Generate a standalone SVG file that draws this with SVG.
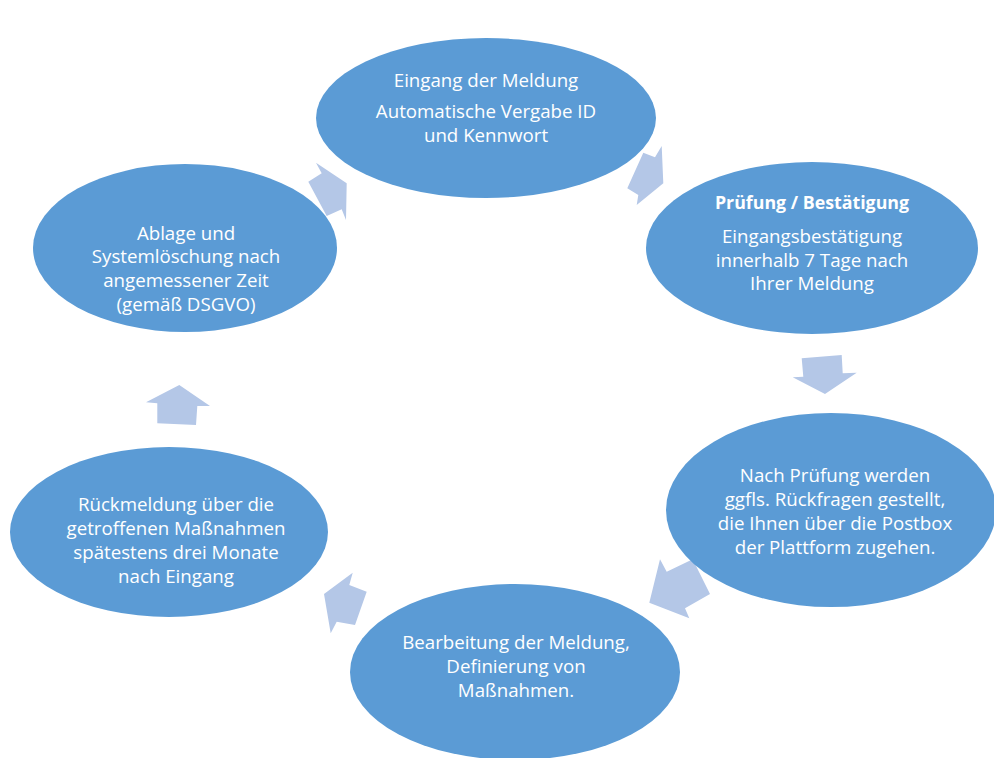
<svg xmlns="http://www.w3.org/2000/svg" width="994" height="758" viewBox="0 0 994 758">
<style>
.node ellipse{fill:#5b9bd5;}
.arrow{fill:#b4c7e7;}
text{font-family:"Open Sans","Liberation Sans",sans-serif;font-size:18.7px;fill:#ffffff;text-anchor:middle;}
.b{font-weight:bold;font-size:17.8px;}
</style>
<rect width="994" height="758" fill="#ffffff"/>
<g id="connectors">
<polygon class="arrow" points="316,162.7 321.7,173.3 308.3,181.7 326.7,216 341.7,209.3 346,220 346.7,183.3"/>
<polygon class="arrow" points="627.3,188.3 643.3,152.7 655,157.3 661.7,146 663.3,183.3 636.7,205 638.3,195"/>
<polygon class="arrow" points="801.7,358.3 841.7,355 842.7,373.3 856.7,372.7 825,394 792.7,377.3 803.3,376.7"/>
<polygon class="arrow" points="660,559.3 666.7,571.7 692.7,559.3 710,594 685,608.3 689.3,618.3 649.3,602.7"/>
<polygon class="arrow" points="352.7,572.7 349.3,585 366.7,591.7 355,625 336.7,621.7 330.7,633.3 324,594"/>
<polygon class="arrow" points="146,402.3 179.3,385 210,406 197.3,406 196,425 157.3,423.3 157.3,403.3"/>
</g>
<g id="node1" class="node">
<ellipse cx="486" cy="118" rx="170" ry="80"/>
<text x="486" y="87">Eingang der Meldung</text>
<text x="486" y="118">Automatische Vergabe ID</text>
<text x="486" y="142">und Kennwort</text>
</g>
<g id="node2" class="node">
<ellipse cx="812" cy="248" rx="166" ry="86"/>
<text x="812" y="209" class="b">Prüfung / Bestätigung</text>
<text x="812" y="243">Eingangsbestätigung</text>
<text x="812" y="267">innerhalb 7 Tage nach</text>
<text x="812" y="290">Ihrer Meldung</text>
</g>
<g id="node3" class="node">
<ellipse cx="831" cy="510" rx="165" ry="97"/>
<text x="835" y="482">Nach Prüfung werden</text>
<text x="835" y="506">ggfls. Rückfragen gestellt,</text>
<text x="835" y="530">die Ihnen über die Postbox</text>
<text x="835" y="554">der Plattform zugehen.</text>
</g>
<g id="node4" class="node">
<ellipse cx="515" cy="672" rx="165" ry="88"/>
<text x="516" y="649">Bearbeitung der Meldung,</text>
<text x="516" y="673">Definierung von</text>
<text x="516" y="697">Maßnahmen.</text>
</g>
<g id="node5" class="node">
<ellipse cx="169" cy="532" rx="159" ry="85"/>
<text x="176" y="511">Rückmeldung über die</text>
<text x="176" y="535">getroffenen Maßnahmen</text>
<text x="176" y="559">spätestens drei Monate</text>
<text x="176" y="583">nach Eingang</text>
</g>
<g id="node6" class="node">
<ellipse cx="185" cy="248" rx="152" ry="84"/>
<text x="186" y="240">Ablage und</text>
<text x="186" y="263">Systemlöschung nach</text>
<text x="186" y="287">angemessener Zeit</text>
<text x="186" y="311">(gemäß DSGVO)</text>
</g>
</svg>
